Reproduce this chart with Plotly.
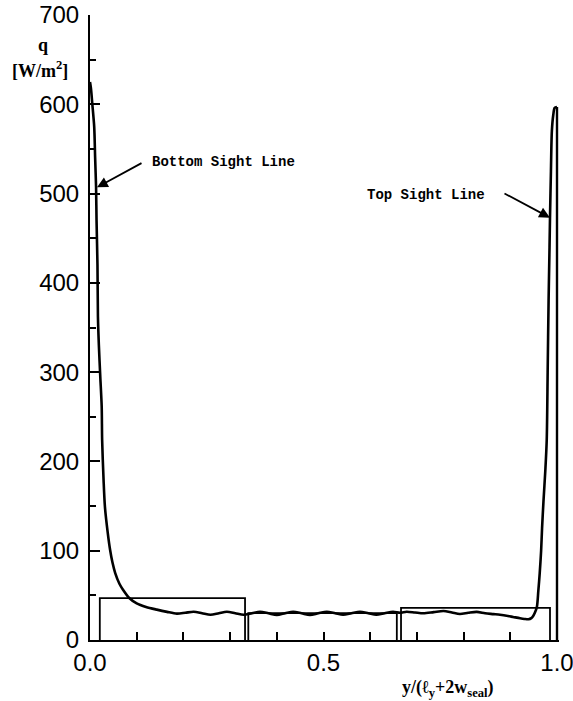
import plotly.graph_objects as go

# Heat flux profile along the normalised coordinate
curve_x = [0.000, 0.002, 0.005, 0.009, 0.011, 0.013, 0.014, 0.016, 0.017, 0.019,
           0.022, 0.025, 0.026, 0.029, 0.032, 0.038, 0.043, 0.048, 0.054, 0.063,
           0.071, 0.084, 0.100, 0.120, 0.143, 0.165, 0.186, 0.204, 0.222, 0.240,
           0.258, 0.276, 0.293, 0.311, 0.329, 0.347, 0.364, 0.382, 0.400, 0.418,
           0.435, 0.453, 0.471, 0.489, 0.507, 0.525, 0.542, 0.560, 0.578, 0.596,
           0.613, 0.631, 0.649, 0.664, 0.678, 0.696, 0.714, 0.736, 0.757, 0.775,
           0.792, 0.810, 0.828, 0.846, 0.864, 0.878, 0.892, 0.906, 0.921, 0.930,
           0.939, 0.945, 0.949, 0.953, 0.957, 0.960, 0.963, 0.966, 0.968, 0.971,
           0.975, 0.978, 0.980, 0.982, 0.984, 0.985, 0.987, 0.989, 0.992, 0.995,
           1.000]
curve_q = [625, 618, 600, 575, 540, 507, 470, 420, 362, 330,
           295, 262, 224, 180, 149, 120, 101, 87, 75, 63,
           56, 47, 41, 37, 34, 31.5, 29.5, 30.5, 31.7, 30.0,
           28.2, 30.0, 31.7, 30.0, 28.2, 30.0, 31.7, 30.0, 28.0, 30.0,
           31.7, 30.0, 28.0, 30.0, 31.7, 30.0, 28.2, 30.0, 31.7, 30.0,
           28.2, 30.0, 31.7, 30.5, 31.7, 30.8, 29.9, 31.2, 32.5, 30.8,
           29.1, 30.5, 31.5, 30.0, 29.0, 28.2, 27.2, 25.8, 24.3, 23.6,
           23.2, 24.5, 26.9, 31.0, 37.3, 55, 75, 100, 125, 155,
           190, 224, 300, 380, 440, 473, 525, 570, 588, 596,
           597]

# Closing drop of the profile at the far wall
edge_x = [1.000, 1.000]
edge_q = [597, 0]

# Average flux over the three wall segments
seg_left = [0.021, 0.339, 0.666]
seg_right = [0.332, 0.657, 0.985]
seg_q = [47, 30, 36]

# Axis ticks
y_ticks = [0, 100, 200, 300, 400, 500, 600, 700]
x_ticks = [0.0, 0.5, 1.0]
x_tick_text = ["0.0", "0.5", "1.0"]

W, H = 573, 701
ML, MR, MT, MB = 90, 14, 15, 61
PW, PH = W - ML - MR, H - MT - MB


def px(xp):
    return (xp - ML) / PW


def py(yp):
    return (H - MB - yp) / PH


fig = go.Figure()

for x0, x1, q in zip(seg_left, seg_right, seg_q):
    fig.add_trace(go.Scatter(
        x=[x0, x0, x1, x1], y=[0, q, q, 0], mode="lines",
        line=dict(color="black", width=1.8), hoverinfo="skip", showlegend=False,
    ))

fig.add_trace(go.Scatter(
    x=curve_x, y=curve_q, mode="lines",
    line=dict(color="black", width=2.6, shape="spline", smoothing=0.8),
    showlegend=False,
))
fig.add_trace(go.Scatter(
    x=edge_x, y=edge_q, mode="lines",
    line=dict(color="black", width=2.4), hoverinfo="skip", showlegend=False,
))

tick_font = dict(family="Liberation Sans, Arial, sans-serif", size=24, color="black")

fig.update_xaxes(
    range=[0, PW / 467.0], showline=True, linecolor="black", linewidth=2,
    showgrid=False, zeroline=False, mirror=False, automargin=False,
    tickmode="array", tickvals=x_ticks, ticktext=x_tick_text,
    ticks="inside", ticklen=8, tickwidth=1.8, tickcolor="black",
    tickfont=tick_font, ticklabelstandoff=0, ticklabeloverflow="allow",
    minor=dict(dtick=0.1, tick0=0, ticks="inside", ticklen=8, tickwidth=1.8,
               tickcolor="black", showgrid=False),
)
fig.update_yaxes(
    range=[0, 700], showline=True, linecolor="black", linewidth=2,
    showgrid=False, zeroline=False, mirror=False, automargin=False,
    tickmode="array", tickvals=y_ticks,
    ticks="inside", ticklen=10, tickwidth=1.8, tickcolor="black",
    tickfont=tick_font, ticklabelstandoff=4, ticklabeloverflow="allow",
    minor=dict(dtick=50, tick0=0, ticks="inside", ticklen=6, tickwidth=1.5,
               tickcolor="black", showgrid=False),
)

label_font = dict(family="Liberation Serif, Times New Roman, serif", size=18, color="black")
note_font = dict(family="Liberation Mono, Courier New, monospace", size=14, color="black")

annotations = [
    dict(text="<b>q</b>", x=px(43), y=py(45), xref="paper", yref="paper",
         showarrow=False, font=label_font, xanchor="center", yanchor="middle"),
    dict(text="<b>[W/m<sup>2</sup>]</b>", x=px(40), y=py(70), xref="paper", yref="paper",
         showarrow=False, font=label_font, xanchor="center", yanchor="middle"),
    dict(text="<b>y/(ℓ<sub>y</sub>+2w<sub>seal</sub>)</b>", x=px(448), y=py(688),
         xref="paper", yref="paper", showarrow=False, font=label_font,
         xanchor="center", yanchor="middle"),
    # Sight line labels
    dict(text="<b>Bottom Sight Line</b>", x=px(150), y=py(162), xref="paper", yref="paper",
         showarrow=False, font=note_font, xanchor="left", yanchor="middle"),
    dict(text="", x=0.015, y=507, xref="x", yref="y", showarrow=True,
         ax=46, ay=-25, axref="pixel", ayref="pixel",
         arrowhead=2, arrowsize=1.2, arrowwidth=1.8, arrowcolor="black"),
    dict(text="<b>Top Sight Line</b>", x=px(487), y=py(195), xref="paper", yref="paper",
         showarrow=False, font=note_font, xanchor="right", yanchor="middle"),
    dict(text="", x=0.985, y=473, xref="x", yref="y", showarrow=True,
         ax=-47, ay=-25, axref="pixel", ayref="pixel",
         arrowhead=2, arrowsize=1.2, arrowwidth=1.8, arrowcolor="black"),
]

fig.update_layout(
    width=W, height=H,
    margin=dict(l=ML, r=MR, t=MT, b=MB, pad=0, autoexpand=False),
    paper_bgcolor="white", plot_bgcolor="white",
    annotations=annotations,
    showlegend=False,
)

fig.write_html("out.html", config={"displayModeBar": False})
